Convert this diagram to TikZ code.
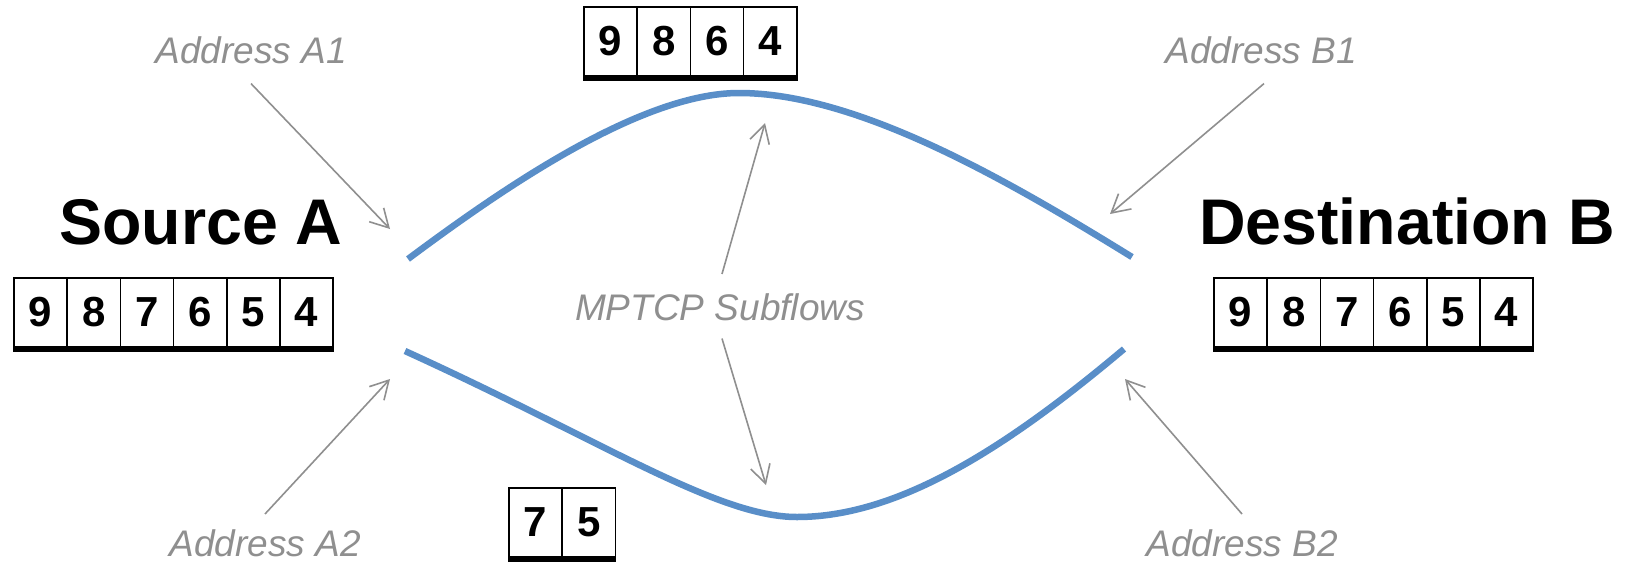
\documentclass[tikz,border=0pt]{standalone}
\usepackage{fontspec}
\setmainfont{Liberation Sans}
\usetikzlibrary{arrows.meta,calc}
\definecolor{addrgray}{RGB}{143,143,143}
\definecolor{flowblue}{RGB}{89,142,200}
\tikzset{
  cell/.style={draw, line width=1.6pt, minimum width=53.2pt, minimum height=69pt,
    inner sep=0pt, outer sep=0pt, font=\fontsize{42}{42}\selectfont\bfseries},
  title/.style={font=\fontsize{64.5}{64.5}\selectfont\bfseries, inner sep=0pt, anchor=base},
  addr/.style={text=addrgray, font=\fontsize{37}{37}\selectfont\itshape, inner sep=0pt, anchor=base},
  pointer/.style={draw=addrgray, line width=1.6pt, -{Straight Barb[length=18pt,width=20pt]}},
  subflow/.style={draw=flowblue, line width=6.5pt},
}
% a row of numbered segments with a heavy base line
\newcommand{\segrow}[4]{% prefix, left x, centre y, list
  \foreach \d [count=\i] in {#4}
    \node[cell] (#1\i) at ({#2+53.2*(\i-0.5)},#3) {\d};
}
\newcommand{\segbase}[2]{% first cell, last cell
  \fill ([xshift=-0.8pt]#1.south west) rectangle ([xshift=0.8pt,yshift=-5pt]#2.south east);
}
\begin{document}
\begin{tikzpicture}[x=1pt,y=-1pt]
\useasboundingbox[fill=white] (0,0) rectangle (1628,563);

% hosts
\node[title] (src) at (201,244) {Source A};
\node[title] (dst) at (1407,244) {Destination B};

% send and receive buffers
\segrow{s}{14}{312.5}{9,8,7,6,5,4}
\segbase{s1}{s6}
\segrow{d}{1214}{312.5}{9,8,7,6,5,4}
\segbase{d1}{d6}

% segments carried by each subflow
\segrow{u}{584}{41.5}{9,8,6,4}
\segbase{u1}{u4}
\segrow{l}{509}{522.5}{7,5}
\segbase{l1}{l2}

% the two subflow paths
\coordinate (ua) at (408,259);
\coordinate (up) at (739,93);
\coordinate (ub) at (1132,257);
\coordinate (la) at (405,351);
\coordinate (lt) at (797,517);
\coordinate (lb) at (1124,349);
\draw[subflow] (ua) .. controls (498,192) and (639,93) .. (up)
               .. controls (859,93) and (1012,183) .. (ub);
\draw[subflow] (la) .. controls (605,442) and (717,517) .. (lt)
               .. controls (897,517) and (1004,450) .. (lb);

% address labels
\node[addr] (a1) at (251,63) {Address A1};
\node[addr] (b1) at (1261,63) {Address B1};
\node[addr] (a2) at (265,556) {Address A2};
\node[addr] (b2) at (1242,556) {Address B2};
\node[addr] (mp) at (720,320) {MPTCP Subflows};

\coordinate (ta1) at (390,229);
\coordinate (tb1) at (1110,214);
\coordinate (ta2) at (390,379);
\coordinate (tb2) at (1125,379);
\coordinate (tup) at (765,123);
\coordinate (tlo) at (766,485);

\draw[pointer] ([yshift=-20pt]a1.south) -- (ta1);
\draw[pointer] ([xshift=3pt,yshift=-20pt]b1.south) -- (tb1);
\draw[pointer] ([yshift=15pt]a2.north) -- (ta2);
\draw[pointer] ([yshift=15pt]b2.north) -- (tb2);
\draw[pointer] ([xshift=2pt,yshift=19pt]mp.north) -- (tup);
\draw[pointer] ([xshift=2pt,yshift=-18pt]mp.south) -- (tlo);
\end{tikzpicture}
\end{document}
